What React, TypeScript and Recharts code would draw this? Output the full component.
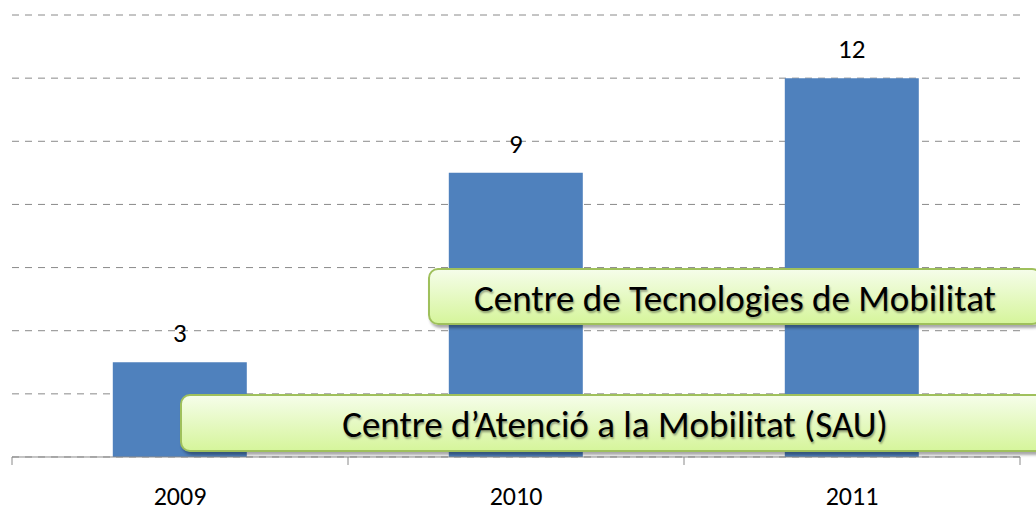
import { BarChart, Bar, XAxis, YAxis, CartesianGrid, LabelList } from 'recharts';

const years = ['2009', '2010', '2011'];
const values = [3, 9, 12];
const yTicks = [0, 2, 4, 6, 8, 10, 12, 14];

const data = years.map((year, i) => ({ year, value: values[i] }));

const font = "Calibri, Carlito, 'Open Sans', sans-serif";
const gray = '#8a8a8a';
const TICK_LEN = 8;
const TICK_GAP = 22;

// label under the band + tick marks on the band edges
function YearTick(props: any) {
  const { x, y, payload, index, visibleTicksCount } = props;
  const half = payload.offset ?? 0;
  const axisY = y - TICK_LEN - TICK_GAP;
  const last = index === visibleTicksCount - 1;
  return (
    <g>
      <line x1={x - half} x2={x - half} y1={axisY} y2={axisY + TICK_LEN} stroke={gray} />
      {last && <line x1={x + half} x2={x + half} y1={axisY} y2={axisY + TICK_LEN} stroke={gray} />}
      <text x={x} y={y} dy="0.71em" textAnchor="middle" fill="#000" fontSize={26} fontFamily={font}>
        {payload.value}
      </text>
    </g>
  );
}

const boxStyle: React.CSSProperties = {
  position: 'absolute',
  boxSizing: 'border-box',
  border: '2px solid #9fc05c',
  borderRadius: 10,
  background: 'linear-gradient(#f5fde9, #d6f59c)',
  boxShadow: '2px 3px 3px rgba(0,0,0,0.35)',
  display: 'flex',
  alignItems: 'center',
  justifyContent: 'center',
  paddingTop: 3,
  fontFamily: font,
  fontSize: 37,
  color: '#000',
  textShadow: '1px 2px 2px rgba(0,0,0,0.35)',
  whiteSpace: 'nowrap',
};

export default function App() {
  return (
    <div style={{ position: 'absolute', left: 0, top: 0, width: 1036, height: 511, overflow: 'hidden', background: '#fff' }}>
      <BarChart width={1036} height={511} data={data} margin={{ top: 15, right: 16, bottom: 54, left: 12 }} barCategoryGap="30%">
        <CartesianGrid vertical={false} stroke={gray} strokeDasharray="7 6" />
        <YAxis hide domain={[0, 14]} ticks={yTicks} />
        <XAxis
          dataKey="year"
          height={0.01}
          axisLine={{ stroke: gray }}
          tickLine={false}
          tickSize={TICK_LEN}
          tickMargin={TICK_GAP}
          interval={0}
          tick={<YearTick />}
        />
        <Bar dataKey="value" fill="#4f81bd" isAnimationActive={false}>
          <LabelList dataKey="value" position="top" offset={20} fill="#000" fontSize={27} fontFamily={font} />
        </Bar>
      </BarChart>
      <div style={{ ...boxStyle, left: 428, top: 268, width: 614, height: 57 }}>Centre de Tecnologies de Mobilitat</div>
      <div style={{ ...boxStyle, left: 180, top: 394, width: 870, height: 58 }}>Centre d’Atenció a la Mobilitat (SAU)</div>
    </div>
  );
}
